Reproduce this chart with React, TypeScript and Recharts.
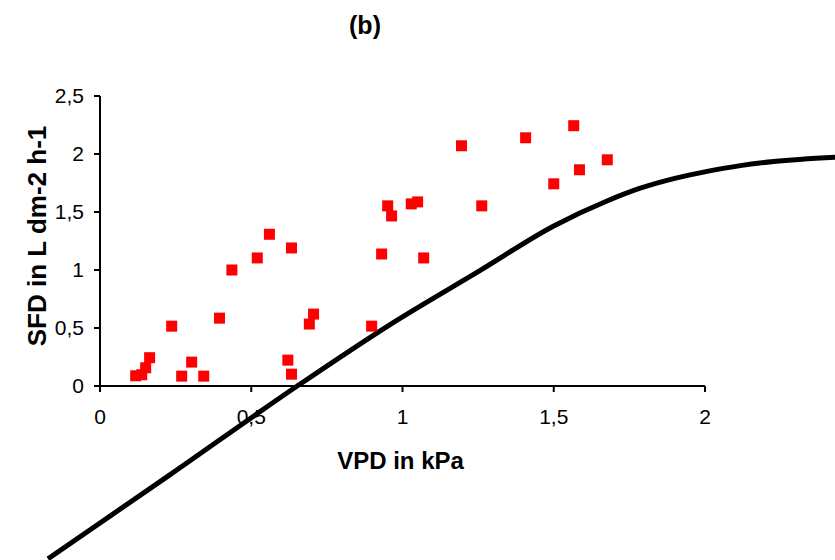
import { ComposedChart, Scatter, Line, XAxis, YAxis } from 'recharts';

// measured points: VPD (kPa) vs SFD (L dm-2 h-1)
const vpd = [
  0.118, 0.138, 0.151, 0.164, 0.237, 0.27, 0.303, 0.343, 0.395, 0.436, 0.52,
  0.56, 0.633, 0.621, 0.633, 0.692, 0.706, 0.898, 0.931, 0.951, 0.964, 1.029,
  1.05, 1.07, 1.195, 1.262, 1.407, 1.5, 1.566, 1.585, 1.677,
];
const sfd = [
  0.088, 0.097, 0.157, 0.244, 0.516, 0.085, 0.206, 0.085, 0.585, 1.0, 1.104,
  1.308, 1.19, 0.223, 0.102, 0.534, 0.62, 0.516, 1.138, 1.553, 1.466, 1.57,
  1.587, 1.104, 2.071, 1.553, 2.14, 1.743, 2.244, 1.864, 1.95,
];

// fitted curve, runs past the plot frame
const curveVpd = [-0.172, 0.232, 0.652, 0.959, 1.257, 1.5, 1.676, 1.786, 1.9, 2.007, 2.117, 2.227, 2.45];
const curveSfd = [-1.49, -0.764, 0, 0.53, 0.997, 1.38, 1.595, 1.705, 1.79, 1.85, 1.9, 1.935, 1.975];

const xTicks = [0, 0.5, 1, 1.5, 2];
const yTicks = [0, 0.5, 1, 1.5, 2, 2.5];

const points = vpd.map((x, i) => ({ x, y: sfd[i] }));
const curve = curveVpd.map((x, i) => ({ x, y: curveSfd[i] }));

const FONT = '"Liberation Sans", Arial, sans-serif';
const fmt = (v: number) => String(v).replace('.', ',');

function Square(props: any) {
  const { cx, cy } = props;
  if (cx == null || cy == null) return null;
  return <rect x={cx - 5.5} y={cy - 5.5} width={11} height={11} fill="#ff0000" />;
}

export default function App() {
  return (
    <div style={{ position: 'relative', width: 835, height: 560, fontFamily: FONT }}>
      <style>{`body{margin:0} .recharts-line, .recharts-line *{clip-path:none !important}`}</style>
      <div
        style={{
          position: 'absolute',
          left: 0,
          top: 11,
          width: 730,
          textAlign: 'center',
          fontWeight: 'bold',
          fontSize: 25,
          lineHeight: '28px',
        }}
      >
        (b)
      </div>
      <ComposedChart width={835} height={560} margin={{ top: 96, right: 130, bottom: 0, left: 0 }}>
        <XAxis
          type="number"
          dataKey="x"
          domain={[0, 2]}
          ticks={xTicks}
          allowDataOverflow
          tickFormatter={fmt}
          height={174}
          tickSize={6}
          tickMargin={17}
          axisLine={{ stroke: '#000', strokeWidth: 2 }}
          tickLine={{ stroke: '#000', strokeWidth: 2 }}
          tick={{ fill: '#000', fontSize: 21, fontFamily: FONT }}
          label={{
            content: (p: any) => (
              <text
                x={p.viewBox.x + p.viewBox.width / 2 - 2}
                y={p.viewBox.y + 83}
                textAnchor="middle"
                fontWeight="bold"
                fontSize={24}
                fontFamily={FONT}
                fill="#000"
              >
                VPD in kPa
              </text>
            ),
          }}
        />
        <YAxis
          type="number"
          domain={[0, 2.5]}
          ticks={yTicks}
          allowDataOverflow
          tickFormatter={fmt}
          width={100}
          tickSize={6}
          tickMargin={10}
          axisLine={{ stroke: '#000', strokeWidth: 2 }}
          tickLine={{ stroke: '#000', strokeWidth: 2 }}
          tick={{ fill: '#000', fontSize: 21, fontFamily: FONT }}
          label={{
            content: (p: any) => {
              const cx = p.viewBox.x + 37;
              const cy = p.viewBox.y + p.viewBox.height / 2 - 5;
              return (
                <text
                  x={cx}
                  y={cy}
                  transform={`rotate(-90 ${cx} ${cy})`}
                  textAnchor="middle"
                  dominantBaseline="central"
                  fontWeight="bold"
                  fontSize={26}
                  fontFamily={FONT}
                  fill="#000"
                >
                  SFD in L dm-2 h-1
                </text>
              );
            },
          }}
        />
        <Scatter data={points} dataKey="y" shape={Square} isAnimationActive={false} />
        <Line
          data={curve}
          dataKey="y"
          type="monotone"
          stroke="#000"
          strokeWidth={5}
          dot={false}
          activeDot={false}
          isAnimationActive={false}
        />
      </ComposedChart>
    </div>
  );
}
